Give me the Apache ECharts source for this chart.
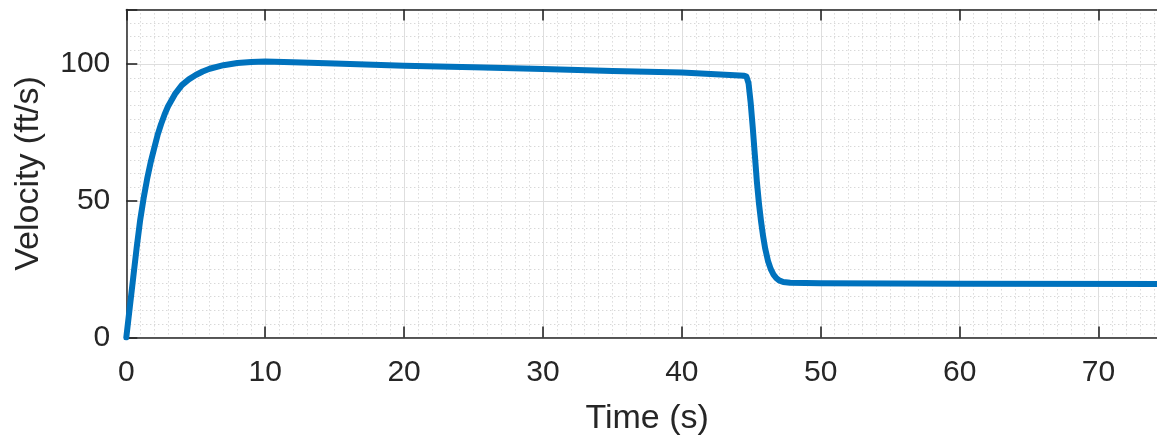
<!DOCTYPE html>
<html>
<head>
<meta charset="utf-8">
<script src="https://cdn.jsdelivr.net/npm/echarts@6/dist/echarts.min.js"></script>
<style>
html,body{margin:0;padding:0;background:#fff;overflow:hidden;width:1157px;height:441px;}
#chart{width:1171px;height:441px;}
</style>
</head>
<body>
<div id="chart"></div>
<script>
// ---- data ----
const timeSec = [0, 0.25, 0.5, 0.75, 1.0, 1.25, 1.5, 1.75, 2.0, 2.25, 2.5, 2.75, 3.0, 3.5, 4.0, 4.5, 5.0, 5.5, 6.0, 7.0, 8.0, 9.0, 10, 12, 15, 20, 25, 30, 35, 40, 44.5,
  44.65, 44.8, 44.95, 45.1, 45.25, 45.4, 45.55, 45.7, 45.85, 46.0, 46.2, 46.4, 46.6, 46.8, 47.0, 47.3, 47.8, 50, 60, 75];
const velocity = [0, 11, 22, 33, 43, 51, 58, 64, 69, 74, 78, 81.5, 84.5, 89, 92.3, 94.4, 96, 97.3, 98.3, 99.6, 100.4, 100.8, 100.9, 100.7, 100.2, 99.4, 98.8, 98.2, 97.5, 96.9, 95.7,
  95.4, 93, 86, 77, 67, 57, 49, 42.5, 37, 32.5, 28, 25, 23, 21.7, 20.9, 20.3, 20.0, 19.85, 19.7, 19.6];
const xTicks = [0, 10, 20, 30, 40, 50, 60, 70];
const yTicks = [0, 50, 100];
const xTitle = 'Time (s)';
const yTitle = 'Velocity (ft/s)';

const font = "'Liberation Sans', Arial, Helvetica, sans-serif";
const axisColor = '#262626';
const majorGrid = '#dedede';
const minorGrid = '#c8c8c8';

const chart = echarts.init(document.getElementById('chart'), null, {renderer: 'canvas'});
const seriesData = timeSec.map((t, i) => [t, velocity[i]]);

chart.setOption({
  animation: false,
  backgroundColor: '#ffffff',
  grid: {left: 126.3, top: 9.4, right: 0.7, bottom: 103.5, containLabel: false},
  xAxis: [
    {
      type: 'value', position: 'bottom', min: 0, max: 75, interval: 10, z: 2,
      name: xTitle, nameLocation: 'middle', nameGap: 64,
      nameTextStyle: {fontSize: 34, color: axisColor, fontFamily: font},
      axisLine: {show: true, onZero: false, lineStyle: {color: axisColor, width: 1.5}},
      axisTick: {show: true, inside: true, length: 11, lineStyle: {color: axisColor, width: 1.6}},
      axisLabel: {fontSize: 30, color: axisColor, fontFamily: font, margin: 20,
        formatter: v => (xTicks.indexOf(v) >= 0 ? String(v) : '')},
      splitLine: {show: true, lineStyle: {color: majorGrid, width: 1}}
    },
    {
      type: 'value', position: 'top', min: 0, max: 75, interval: 10, z: 2,
      axisLine: {show: true, onZero: false, lineStyle: {color: axisColor, width: 1.5}},
      axisTick: {show: true, inside: true, length: 11, lineStyle: {color: axisColor, width: 1.6}},
      axisLabel: {show: false},
      splitLine: {show: false}
    },
    {
      type: 'value', position: 'bottom', min: 0, max: 75, interval: 1, z: 0,
      axisLine: {show: false}, axisTick: {show: false}, axisLabel: {show: false},
      splitLine: {show: true, lineStyle: {color: minorGrid, width: 1, type: [1, 3]}}
    }
  ],
  yAxis: [
    {
      type: 'value', position: 'left', min: 0, max: 120, interval: 50, z: 2,
      name: yTitle, nameLocation: 'middle', nameGap: 81,
      nameTextStyle: {fontSize: 34, color: axisColor, fontFamily: font},
      axisLine: {show: true, onZero: false, lineStyle: {color: axisColor, width: 1.5}},
      axisTick: {show: true, inside: true, length: 11, lineStyle: {color: axisColor, width: 1.6}},
      axisLabel: {fontSize: 30, color: axisColor, fontFamily: font, margin: 16,
        formatter: v => (yTicks.indexOf(v) >= 0 ? String(v) : '')},
      splitLine: {show: true, lineStyle: {color: majorGrid, width: 1}}
    },
    {
      type: 'value', position: 'left', min: 0, max: 120, interval: 5, z: 0,
      axisLine: {show: false}, axisTick: {show: false}, axisLabel: {show: false},
      splitLine: {show: true, lineStyle: {color: minorGrid, width: 1, type: [1, 3]}}
    }
  ],
  series: [{
    type: 'line',
    xAxisIndex: 0, yAxisIndex: 0,
    data: seriesData,
    showSymbol: false,
    smooth: false,
    z: 5,
    lineStyle: {color: '#0072BD', width: 6, cap: 'round', join: 'round'}
  }]
});
</script>
</body>
</html>
